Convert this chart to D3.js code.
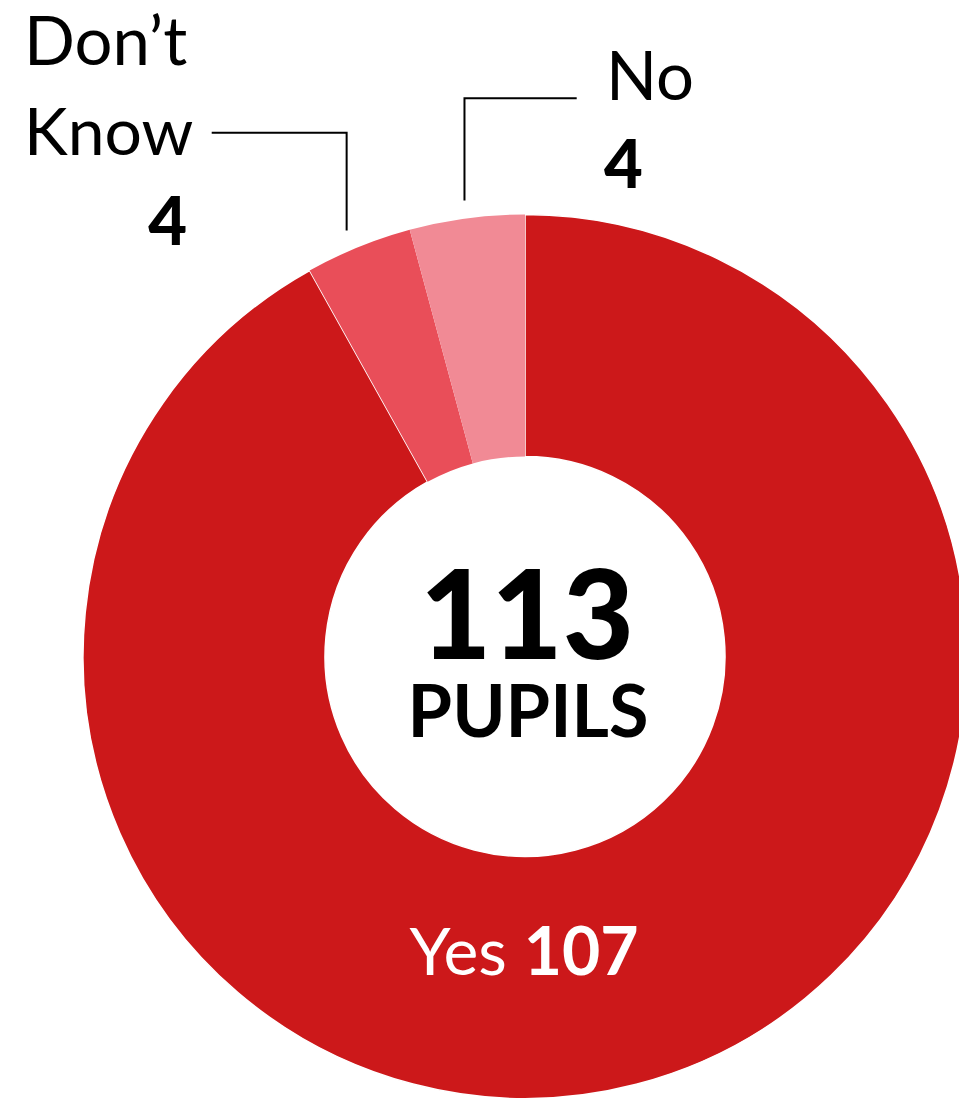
<!DOCTYPE html>
<html>
<head>
<meta charset="utf-8">
<script src="https://cdn.jsdelivr.net/npm/d3@7"></script>
<style>
  html, body { margin: 0; padding: 0; background: #ffffff; }
  svg { display: block; }
  text { font-family: Lato, "Open Sans", sans-serif; }
  .bold { font-weight: 900; }
</style>
</head>
<body>
<div id="chart"></div>
<script>
// ---- Data ----
const categories = ["Yes", "Don\u2019t Know", "No"];
const counts = [107, 4, 4];                 // numbers shown on the labels
const sliceShares = [91.9, 3.9, 4.2];       // slice sizes (%) as drawn in the picture
const totalLabel = "113";
const totalCaption = "PUPILS";
const colors = ["#CC181A", "#E94E59", "#F18A95"];

// ---- Layout ----
const W = 959, H = 1098;
const cx = 525, cy = 656.5;
const outerR = 442, innerR = 200;

const svg = d3.select("#chart").append("svg")
  .attr("width", W).attr("height", H);

const g = svg.append("g").attr("transform", `translate(${cx},${cy})`);

const data = categories.map((c, i) => ({ cat: c, count: counts[i], share: sliceShares[i], color: colors[i] }));

const pie = d3.pie().sort(null).value(d => d.share).startAngle(0).endAngle(2 * Math.PI);
const arcs = pie(data);
const arc = d3.arc().innerRadius(innerR).outerRadius(outerR);

g.selectAll("path.slice")
  .data(arcs)
  .join("path")
  .attr("class", "slice")
  .attr("d", arc)
  .attr("fill", d => d.data.color)
  .attr("stroke", d => d.index === 0 ? "#ffffff" : "none")
  .attr("stroke-width", 1.5);

// Centre text (one text element, two lines)
const centre = g.append("text")
  .attr("text-anchor", "middle")
  .attr("fill", "#000");
centre.append("tspan")
  .attr("x", 2).attr("y", 2)
  .style("font-weight", 900)
  .attr("font-size", 123)
  .text(totalLabel);
centre.append("tspan")
  .attr("x", 3).attr("y", 80.5)
  .style("font-weight", 700)
  .attr("font-size", 72)
  .text(totalCaption);

// Yes label inside the ring
const yesT = g.append("text")
  .attr("x", -1).attr("y", 318.5)
  .attr("text-anchor", "middle")
  .attr("font-size", 66)
  .attr("fill", "#fff");
yesT.append("tspan").style("font-weight", 400).text(data[0].cat + " ");
yesT.append("tspan").style("font-weight", 700).text(data[0].count);

// Leader lines for the small slices
const leaderR = outerR + 18;
function leaderStart(a, shift) {
  const m = (a.startAngle + a.endAngle) / 2;
  return [leaderR * Math.sin(m) + shift, -leaderR * Math.cos(m)];
}

// No
const noArc = arcs[2];
const pNo = leaderStart(noArc, 0);
const noElbowY = 98.3 - cy;
g.append("path")
  .attr("d", d3.line()([[pNo[0], pNo[1]], [pNo[0], noElbowY], [576.7 - cx, noElbowY]]))
  .attr("fill", "none").attr("stroke", "#000").attr("stroke-width", 2);

svg.append("text")
  .attr("x", 606).attr("y", 100)
  .attr("font-size", 67).attr("fill", "#000")
  .style("font-weight", 400)
  .text(noArc.data.cat);
svg.append("text")
  .attr("x", 604).attr("y", 188)
  .attr("font-size", 67).attr("fill", "#000")
  .style("font-weight", 900)
  .text(String(noArc.data.count));

// Don't Know
const dkArc = arcs[1];
const pDk = leaderStart(dkArc, -5);
const dkElbowY = 132.7 - cy;
g.append("path")
  .attr("d", d3.line()([[pDk[0], pDk[1]], [pDk[0], dkElbowY], [211.7 - cx, dkElbowY]]))
  .attr("fill", "none").attr("stroke", "#000").attr("stroke-width", 2);

const dkWords = dkArc.data.cat.split(" ");
svg.append("text")
  .attr("x", 24).attr("y", 65)
  .attr("font-size", 67).attr("fill", "#000")
  .style("font-weight", 400)
  .text(dkWords[0]);
svg.append("text")
  .attr("x", 24).attr("y", 155)
  .attr("font-size", 66).attr("fill", "#000")
  .style("font-weight", 400)
  .text(dkWords[1]);
svg.append("text")
  .attr("x", 187).attr("y", 245)
  .attr("text-anchor", "end")
  .attr("font-size", 67).attr("fill", "#000")
  .style("font-weight", 900)
  .text(String(dkArc.data.count));
</script>
</body>
</html>
